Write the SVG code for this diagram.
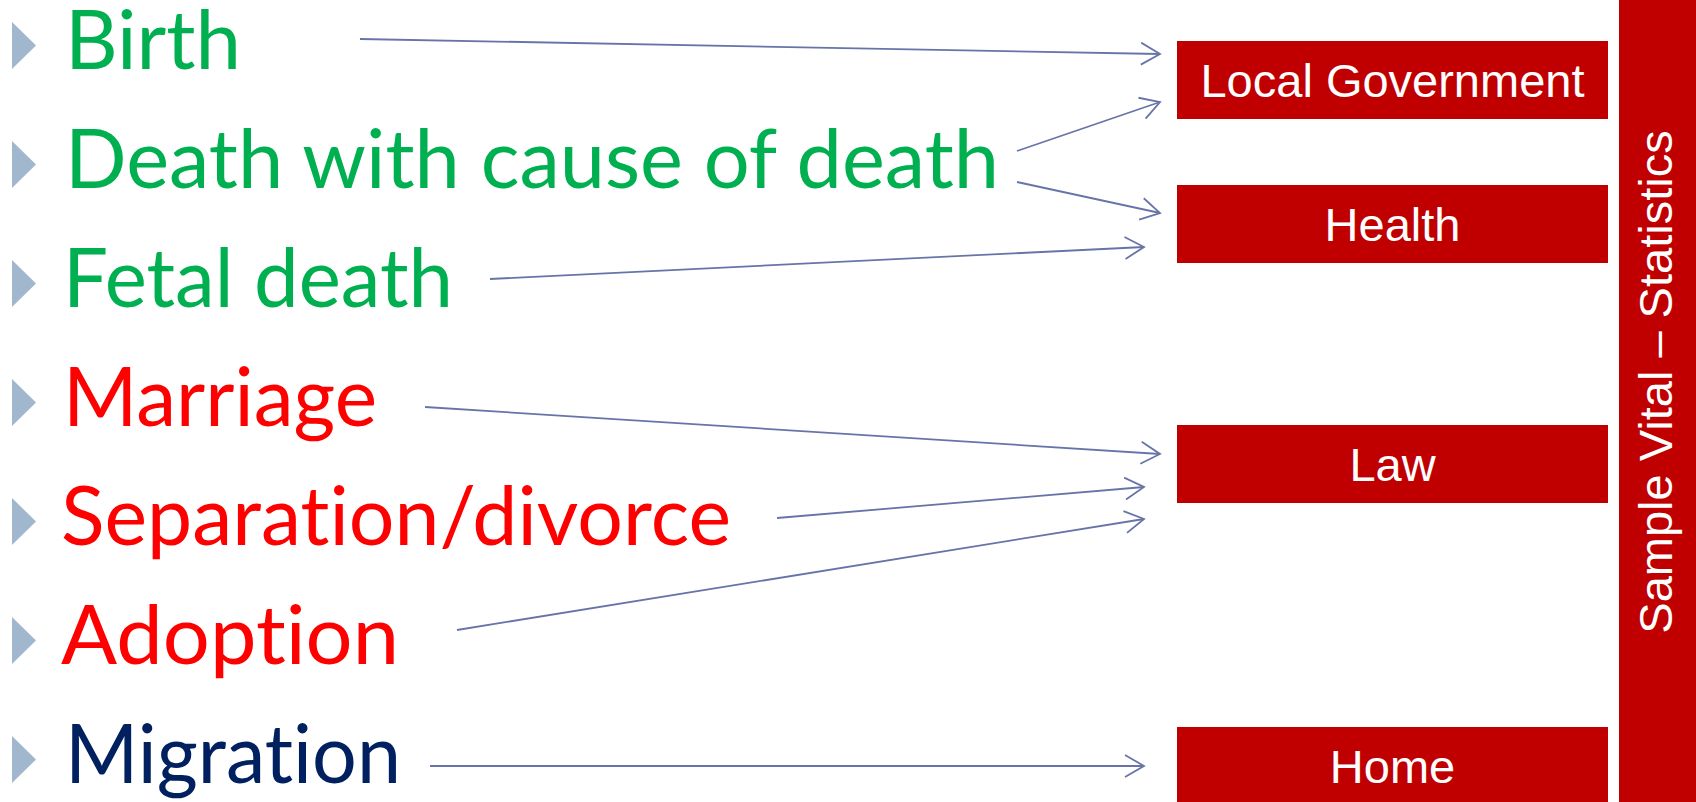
<svg xmlns="http://www.w3.org/2000/svg" width="1696" height="802" viewBox="0 0 1696 802">
<style>
.item{font-family:Lato,"Open Sans","Liberation Sans",sans-serif;font-size:81px;font-variant-ligatures:none;font-feature-settings:"liga" 0,"clig" 0}
.g{fill:#00B050}.r{fill:#FF0000}.b{fill:#002060}
.bullet{fill:#A0B7CE}
.box{fill:#C00000}
.lbl{font-family:"Liberation Sans",Arial,sans-serif;font-size:47px;fill:#FFFFFF;text-anchor:middle}
.conn{stroke:#6874A8;stroke-width:1.8;fill:none;marker-end:url(#arr)}
</style>
<defs>
<marker id="arr" viewBox="0 0 22 24" refX="20" refY="12" markerWidth="22" markerHeight="24" markerUnits="userSpaceOnUse" orient="auto">
<path d="M1,1 L20,12 L1,23" fill="none" stroke="#6874A8" stroke-width="1.8"/>
</marker>
</defs>
<rect width="1696" height="802" fill="#FFFFFF"/>
<g id="item-birth"><polygon class="bullet" points="12,22 36,45.5 12,69"/><text class="item g" x="65" y="69" textLength="176" lengthAdjust="spacingAndGlyphs">Birth</text></g>
<g id="item-death"><polygon class="bullet" points="12,141 36,164.5 12,188"/><text class="item g" x="65" y="188" textLength="934" lengthAdjust="spacingAndGlyphs">Death with cause of death</text></g>
<g id="item-fetal"><polygon class="bullet" points="12,260 36,283.5 12,307"/><text class="item g" x="63" y="307" textLength="390" lengthAdjust="spacingAndGlyphs">Fetal death</text></g>
<g id="item-marriage"><polygon class="bullet" points="12,379 36,402.5 12,426"/><text class="item r" x="63" y="426" textLength="314" lengthAdjust="spacingAndGlyphs">Marriage</text></g>
<g id="item-separation"><polygon class="bullet" points="12,498 36,521.5 12,545"/><text class="item r" x="61" y="545" textLength="670" lengthAdjust="spacingAndGlyphs">Separation/divorce</text></g>
<g id="item-adoption"><polygon class="bullet" points="12,617 36,640.5 12,664"/><text class="item r" x="61" y="664" textLength="338" lengthAdjust="spacingAndGlyphs">Adoption</text></g>
<g id="item-migration"><polygon class="bullet" points="12,736 36,759.5 12,783"/><text class="item b" x="65" y="783" textLength="336" lengthAdjust="spacingAndGlyphs">Migration</text></g>
<g id="box-localgov"><rect class="box" x="1177" y="41" width="431" height="78"/><text class="lbl" x="1392.5" y="97">Local Government</text></g>
<g id="box-health"><rect class="box" x="1177" y="185" width="431" height="78"/><text class="lbl" x="1392.5" y="241">Health</text></g>
<g id="box-law"><rect class="box" x="1177" y="425" width="431" height="78"/><text class="lbl" x="1392.5" y="481">Law</text></g>
<g id="box-home"><rect class="box" x="1177" y="727" width="431" height="80"/><text class="lbl" x="1392.5" y="783">Home</text></g>
<g id="bar-statistics"><rect class="box" x="1619" y="0" width="77" height="802"/><text class="lbl" transform="translate(1672,382) rotate(-90)" x="0" y="0">Sample Vital – Statistics</text></g>
<g id="connectors">
<line class="conn" x1="360" y1="39" x2="1160" y2="54"/>
<line class="conn" x1="1017" y1="151" x2="1160" y2="102"/>
<line class="conn" x1="1017" y1="182" x2="1160" y2="213"/>
<line class="conn" x1="490" y1="279" x2="1144" y2="247"/>
<line class="conn" x1="425" y1="407" x2="1160" y2="454"/>
<line class="conn" x1="777" y1="518" x2="1144" y2="487"/>
<line class="conn" x1="457" y1="630" x2="1144" y2="519"/>
<line class="conn" x1="430" y1="766" x2="1144" y2="766"/>
</g>
</svg>
